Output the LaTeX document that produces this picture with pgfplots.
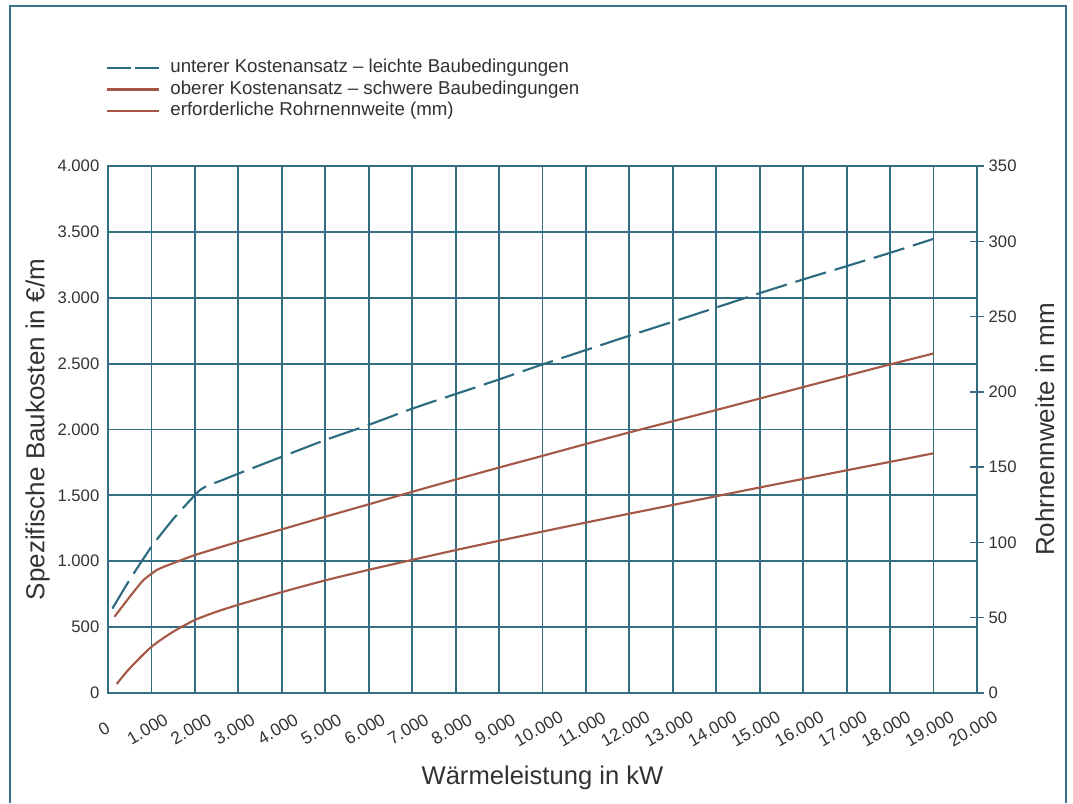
\documentclass[border=0pt]{standalone}
\usepackage{fontspec}
\setmainfont{Liberation Sans}
\usepackage{pgfplots}
\usepackage{pgfplotstable}
\pgfplotsset{compat=1.18}
\definecolor{gridc}{RGB}{52,110,130}
\definecolor{framec}{RGB}{60,115,135}
\definecolor{bluec}{RGB}{45,108,128}
\definecolor{redc}{RGB}{166,88,70}
\definecolor{txt}{RGB}{50,50,50}

\pgfplotstableread{
x y
100 640
500 860
1000 1110
1500 1320
2000 1502
2100 1535
2200 1558
2350 1582
2600 1612
3000 1665
4000 1793
5000 1920
6000 2035
7000 2158
8000 2269
9000 2380
10000 2494
11000 2603
12000 2712
13000 2818
14000 2926
15000 3035
16000 3139
17000 3240
18000 3341
19000 3447
}\tabUnterer

\pgfplotstableread{
x y
150 579
500 730
800 852
1000 905
1120 933
1300 960
1500 985
2000 1047
3000 1148
4000 1242
5000 1338
6000 1432
7000 1527
8000 1620
9000 1711
10000 1800
11000 1890
12000 1978
13000 2063
14000 2148
15000 2235
16000 2322
17000 2408
18000 2494
19000 2577
}\tabOberer

\pgfplotstableread{
x y
200 6
500 16.4
1000 30.7
1500 40.7
2000 48.5
2500 54.0
3000 58.6
4000 67.0
5000 74.8
6000 81.8
7000 88.4
8000 94.9
9000 101.1
10000 107.2
11000 113.2
12000 119.1
13000 124.9
14000 130.7
15000 136.5
16000 142.2
17000 147.9
18000 153.5
19000 159.2
}\tabDN

\begin{document}
\begin{tikzpicture}
\useasboundingbox (0pt,0pt) rectangle (804.75pt,602.25pt);
\draw[framec, line width=1.5pt] (7.125pt,0pt) -- (7.125pt,597.375pt) -- (799.5pt,597.375pt) -- (799.5pt,0pt);

\begin{axis}[
  at={(81pt,82.5pt)}, anchor=south west,
  width=651.75pt, height=395.25pt, scale only axis,
  xmin=0, xmax=20000, ymin=0, ymax=4000,
  xtick={0,1000,...,20000}, ytick={0,500,...,4000},
  grid=major, major grid style={gridc, line width=1.4pt},
  axis line style={gridc, line width=1.8pt},
  major tick length=0pt,
  scaled ticks=false,
  /pgf/number format/.cd, 1000 sep={.}, assume math mode=true, /pgfplots/.cd,
  tick label style={font=\fontsize{12.5}{14}\selectfont, color=txt},
  xticklabel style={font=\fontsize{13}{14}\selectfont, yshift=-27pt, xshift=-3pt, rotate=30, anchor=center},
  yticklabel style={xshift=-3pt},
  xlabel={Wärmeleistung in kW},
  xlabel style={font=\fontsize{19.2}{21}\selectfont, color=txt, at={(axis description cs:0.5,-0.162)}, anchor=center},
  ylabel={Spezifische Baukosten in €/m},
  ylabel style={font=\fontsize{19.5}{21}\selectfont, color=txt, at={(axis description cs:-0.081,0.5)}, anchor=center},
]
\addplot[bluec, line width=1.6pt, dash pattern=on 24pt off 6.75pt, smooth, tension=0.4] table {\tabUnterer};
\addplot[redc, line width=1.6pt, smooth, tension=0.4] table {\tabOberer};
\end{axis}

\begin{axis}[
  at={(81pt,82.5pt)}, anchor=south west,
  width=651.75pt, height=395.25pt, scale only axis,
  xmin=0, xmax=20000, ymin=0, ymax=350,
  axis x line=none, axis y line*=right,
  axis line style={gridc, line width=1.8pt},
  ytick={0,50,...,350},
  tick align=center, major tick length=10.5pt,
  tick style={gridc, line width=1.1pt},
  /pgf/number format/assume math mode=true,
  tick label style={font=\fontsize{12.5}{14}\selectfont, color=txt},
  ylabel={Rohrnennweite in mm},
  ylabel style={font=\fontsize{19.5}{21}\selectfont, color=txt, at={(axis description cs:1.078,0.5)}, anchor=center},
  legend style={draw=none, fill=none, at={(-0.003,1.2063)}, anchor=north west,
    inner sep=0pt, font=\fontsize{14}{15}\selectfont, text=txt,
    nodes={inner sep=2pt, text height=9.5pt, text depth=2.5pt},
    /tikz/every even column/.append style={column sep=0pt}},
  legend cell align=left,
  legend image code/.code={\draw[#1] (0pt,0pt) -- (39pt,0pt);},
]
\addlegendimage{bluec, line width=1.6pt, dash pattern=on 18pt off 3pt}
\addlegendentry{\hspace{6pt}unterer Kostenansatz – leichte Baubedingungen}
\addlegendimage{redc, line width=1.6pt}
\addlegendentry{\hspace{6pt}oberer Kostenansatz – schwere Baubedingungen}
\addplot[redc, line width=1.6pt, smooth, tension=0.4] table {\tabDN};
\addlegendentry{\hspace{6pt}erforderliche Rohrnennweite (mm)}
\end{axis}
\end{tikzpicture}
\end{document}
